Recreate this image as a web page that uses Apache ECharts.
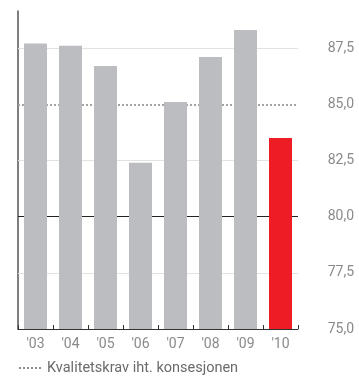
<!DOCTYPE html>
<html>
<head>
<meta charset="utf-8">
<script src="https://cdn.jsdelivr.net/npm/echarts@6/dist/echarts.min.js"></script>
<style>
  html, body { margin: 0; padding: 0; background: #fff; }
  #chart { width: 359px; height: 382px; }
</style>
</head>
<body>
<div id="chart"></div>
<script>
// Yearly values, last year highlighted
const years = ["'03", "'04", "'05", "'06", "'07", "'08", "'09", "'10"];
const values = [87.7, 87.6, 86.7, 82.4, 85.1, 87.1, 88.3, 83.5];
const yTicks = [75, 77.5, 80, 82.5, 85, 87.5];
const requirement = 85.0;
const referenceLine = 80.0;
const legendText = 'Kvalitetskrav iht. konsesjonen';

const GREY = '#bcbdc1';
const RED = '#ee1c25';
const FONT = 'Roboto, "Liberation Sans", sans-serif';

const chart = echarts.init(document.getElementById('chart'), null, { renderer: 'canvas' });

const fmt = v => v.toFixed(1).replace('.', ',');
const isTick = v => yTicks.some(t => Math.abs(t - v) < 1e-6);

const guideLines = yTicks
  .filter(t => t !== yTicks[0])
  .map(t => {
    let style = { color: '#e2e2e2', width: 1, type: 'solid' };
    if (t === referenceLine) style = { color: '#222', width: 1, type: 'solid' };
    if (t === requirement) style = { color: '#a3a3a3', width: 2, type: [2, 2] };
    return { yAxis: t, lineStyle: style };
  });

chart.setOption({
  animation: false,
  backgroundColor: '#fff',
  grid: { left: 18, right: 61, top: 11, bottom: 53, containLabel: false },
  xAxis: {
    type: 'category',
    data: years,
    axisLine: { show: true, lineStyle: { color: '#333', width: 1 } },
    axisTick: { show: true, inside: true, length: 4, lineStyle: { color: '#333' } },
    axisLabel: { color: '#8a8a8a', fontSize: 14, fontFamily: FONT, margin: 8 },
    splitLine: { show: false }
  },
  yAxis: [
    {
      type: 'value', position: 'left', min: 75, max: 89.15, interval: 2.5,
      axisLine: { show: true, lineStyle: { color: '#555', width: 1.5 } },
      axisTick: { show: false },
      axisLabel: { show: false },
      splitLine: { show: false }
    },
    {
      type: 'value', position: 'right', min: 75, max: 89.15, interval: 2.5,
      axisLine: { show: false },
      axisTick: { show: false },
      axisLabel: {
        color: '#8a8a8a', fontSize: 14, fontFamily: FONT,
        align: 'right', margin: 56,
        formatter: v => isTick(v) ? fmt(v) : ''
      },
      splitLine: { show: false }
    }
  ],
  series: [
    {
      type: 'bar',
      yAxisIndex: 0,
      z: 2,
      barWidth: 23,
      data: values.map((v, i) => ({
        value: v,
        itemStyle: { color: i === values.length - 1 ? RED : GREY }
      })),
      markLine: {
        z: 1,
        silent: true,
        symbol: 'none',
        label: { show: false },
        emphasis: { disabled: true },
        data: guideLines
      }
    }
  ],
  graphic: [
    {
      type: 'line',
      shape: { x1: 19, y1: 368, x2: 41, y2: 368 },
      style: { stroke: '#8f8f8f', lineWidth: 2, lineDash: [2, 2] }
    },
    {
      type: 'text',
      left: 47, top: 361,
      style: { text: legendText, fill: '#6a6a6a', fontSize: 14.5, fontFamily: FONT }
    }
  ]
});
</script>
</body>
</html>
